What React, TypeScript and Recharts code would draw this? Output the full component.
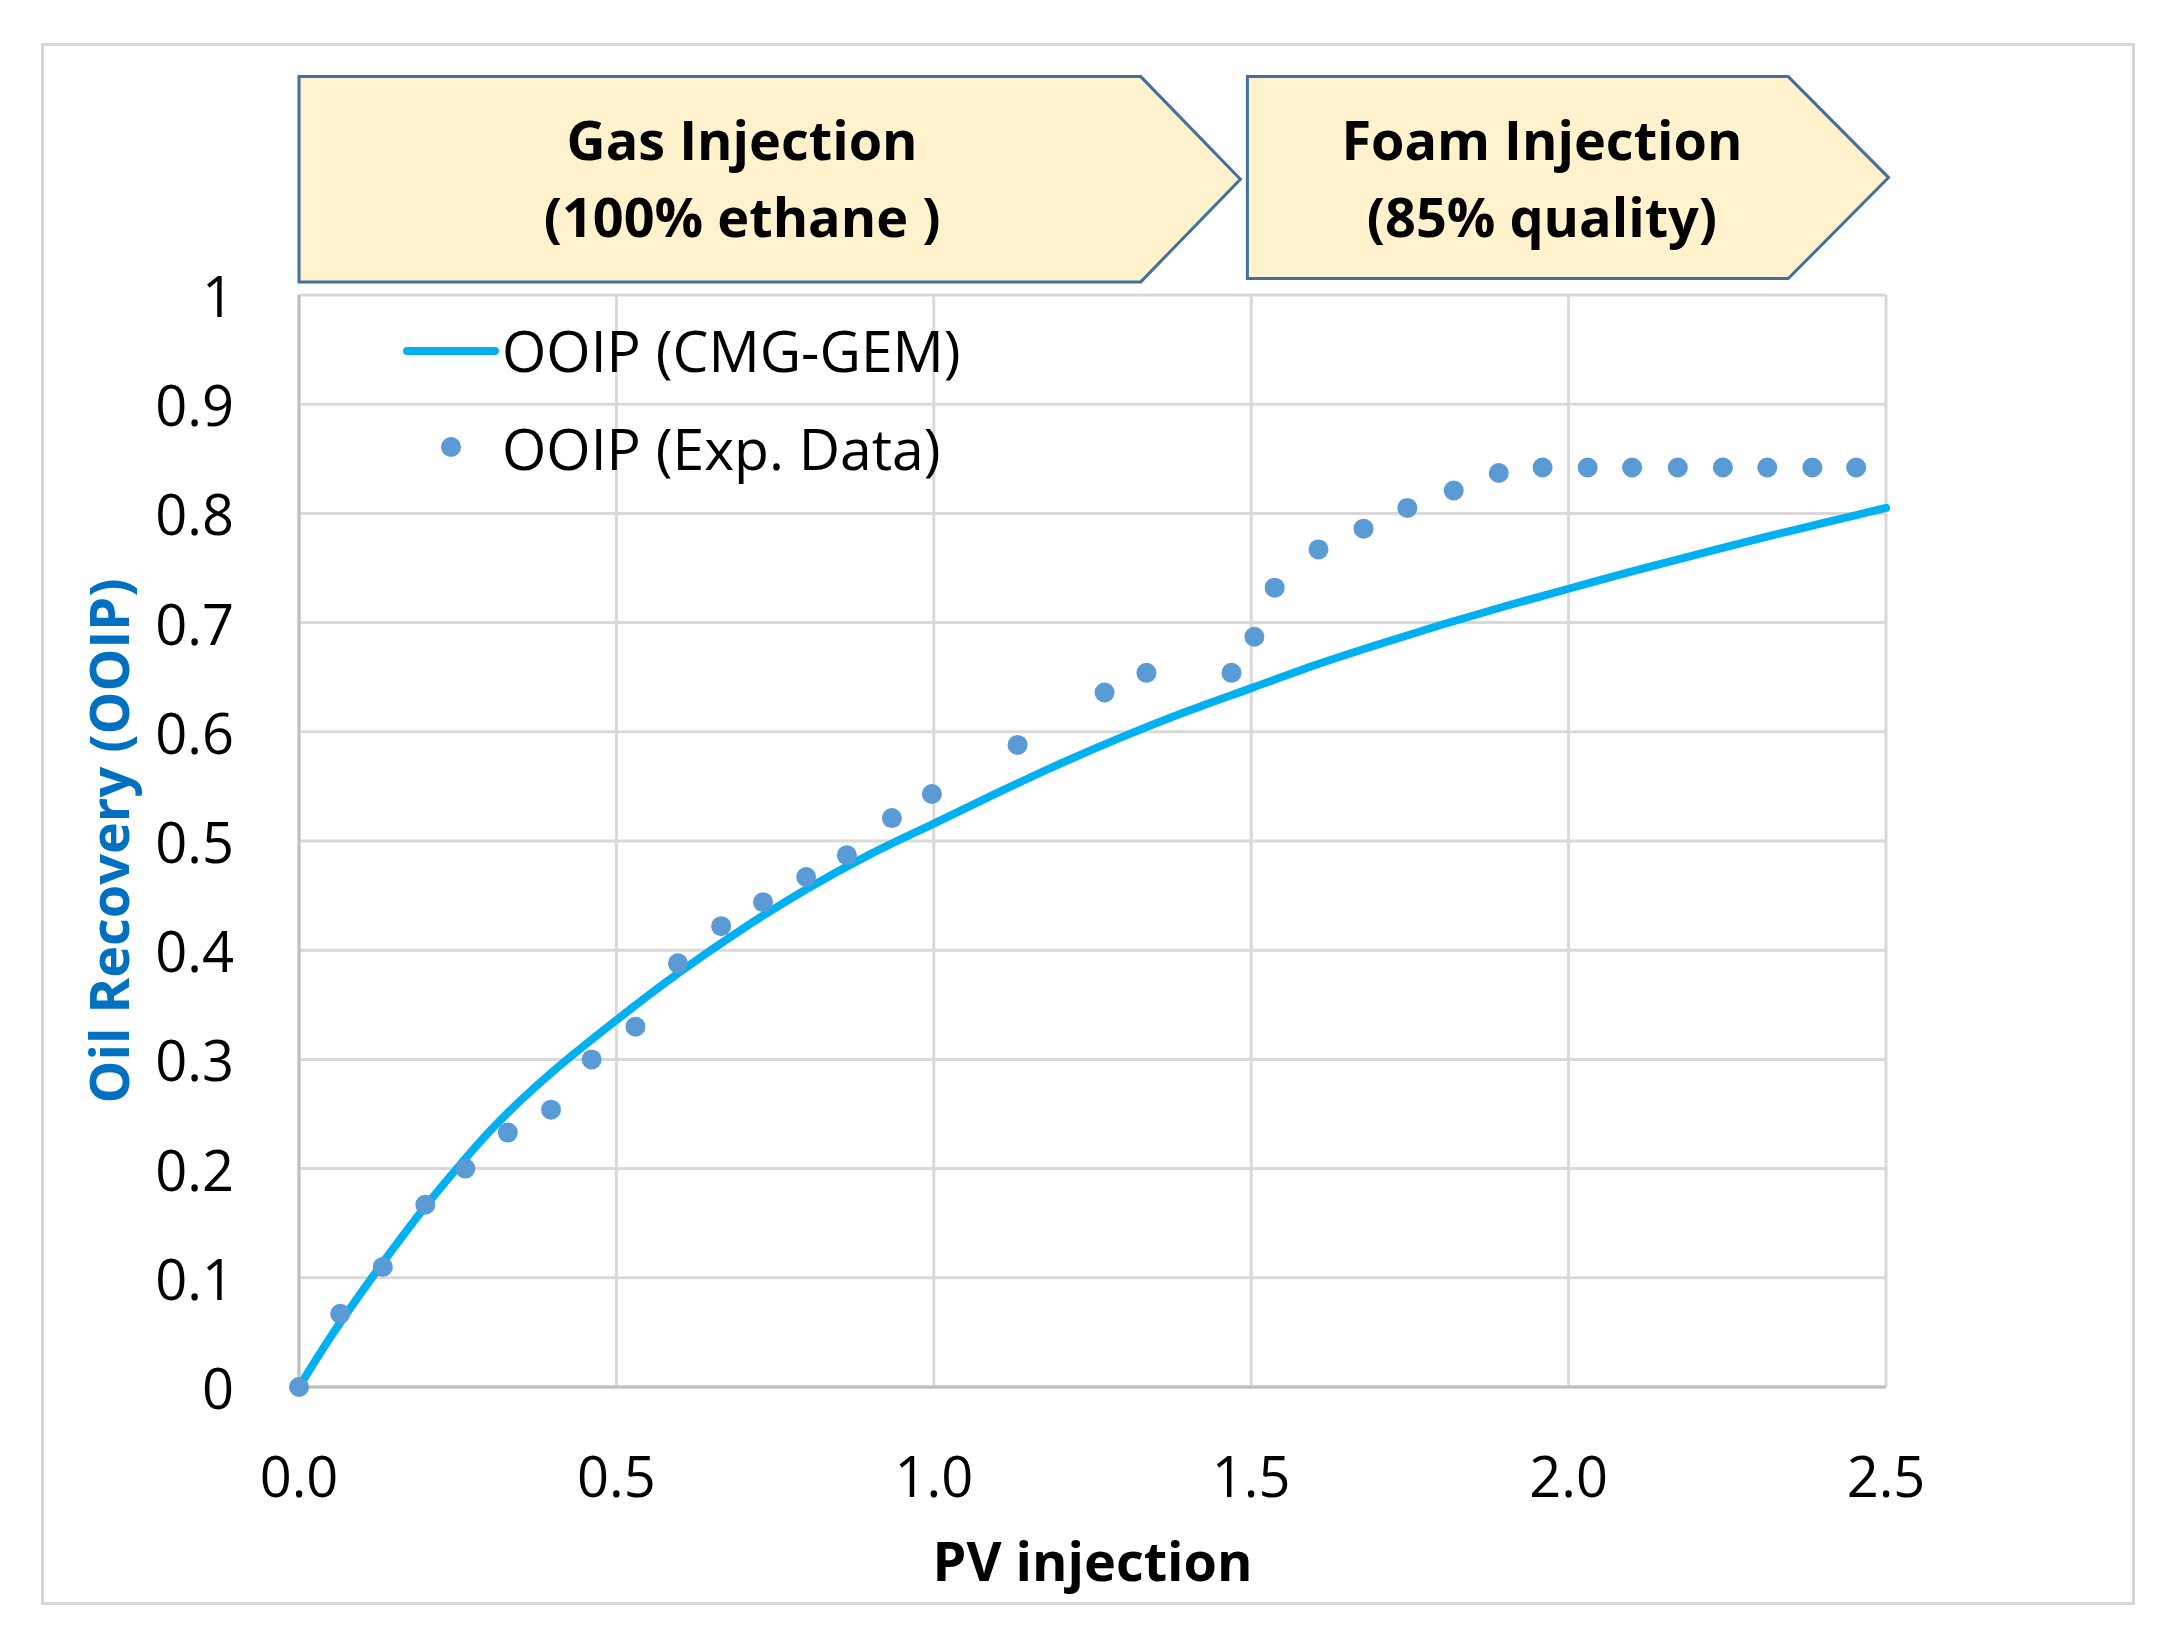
import React from 'react';
import {
  ComposedChart,
  Line,
  Scatter,
  XAxis,
  YAxis,
  CartesianGrid,
  ReferenceArea,
  Legend,
} from 'recharts';

// simulated recovery curve (CMG-GEM)
const simX = [
  0, 0.05, 0.1, 0.15, 0.2, 0.25, 0.3, 0.35, 0.4, 0.5, 0.6, 0.7, 0.8, 0.9, 1.0,
  1.1, 1.2, 1.3, 1.4, 1.5, 1.6, 1.7, 1.8, 1.9, 2.0, 2.1, 2.2, 2.3, 2.4, 2.5,
];
const simY = [
  0, 0.046, 0.088, 0.128, 0.166, 0.201, 0.234, 0.263, 0.289, 0.336, 0.38, 0.42, 0.456, 0.488, 0.516,
  0.544, 0.571, 0.596, 0.619, 0.64, 0.661, 0.68, 0.698, 0.715, 0.731, 0.747, 0.762, 0.777, 0.791, 0.805,
];

// experimental points
const expX = [
  0, 0.065, 0.132, 0.199, 0.262, 0.329, 0.397, 0.461, 0.53, 0.597, 0.665, 0.731, 0.799, 0.863, 0.934,
  0.997, 1.132, 1.269, 1.335, 1.469, 1.505, 1.537, 1.606, 1.677, 1.746, 1.819, 1.89, 1.959, 2.03, 2.1,
  2.172, 2.243, 2.313, 2.384, 2.453,
];
const expY = [
  0, 0.067, 0.11, 0.167, 0.2, 0.233, 0.254, 0.3, 0.33, 0.388, 0.422, 0.444, 0.467, 0.487, 0.521,
  0.543, 0.588, 0.636, 0.654, 0.654, 0.687, 0.732, 0.767, 0.786, 0.805, 0.821, 0.837, 0.842, 0.842, 0.842,
  0.842, 0.842, 0.842, 0.842, 0.842,
];

const xTicks = [0, 0.5, 1.0, 1.5, 2.0, 2.5];
const yTicks = [0, 0.1, 0.2, 0.3, 0.4, 0.5, 0.6, 0.7, 0.8, 0.9, 1];

// injection phase banners (x in PV, y in recovery units above the plot)
const phases = [
  { line1: 'Gas Injection', line2: '(100% ethane )', start: 0, end: 1.326, tip: 1.483, textX: 0.698, top: 1.2, bottom: 1.012 },
  { line1: 'Foam Injection', line2: '(85% quality)', start: 1.494, end: 2.346, tip: 2.504, textX: 1.958, top: 1.2, bottom: 1.015 },
];
const textRow1 = 1.143;
const textRow2 = 1.072;

const simData = simX.map((x, i) => ({ x, y: simY[i] }));
const expData = expX.map((x, i) => ({ x, y: expY[i] }));

const FONT = '"Open Sans", "Noto Sans", sans-serif';
const LINE_COLOR = '#00B0F0';
const DOT_COLOR = '#5B9BD5';

const makeBanner = (p: typeof phases[number]) => (props: any) => {
  const { x, y, width, height } = props;
  const span = p.tip - p.start;
  const px = (v: number) => x + (width * (v - p.start)) / span;
  const py = (v: number) => y + (height * (p.top - v)) / (p.top - p.bottom);
  const xr = px(p.end);
  const xt = x + width;
  const pts = `${x},${y} ${xr},${y} ${xt},${y + height / 2} ${xr},${y + height} ${x},${y + height}`;
  return (
    <g>
      <polygon points={pts} fill="#FFF2CC" stroke="#41719C" strokeWidth={3} />
      <text x={px(p.textX)} y={py(textRow1)} textAnchor="middle" dominantBaseline="central"
        fontFamily={FONT} fontWeight={700} fontSize={54} fill="#000">{p.line1}</text>
      <text x={px(p.textX)} y={py(textRow2)} textAnchor="middle" dominantBaseline="central"
        fontFamily={FONT} fontWeight={700} fontSize={54} fill="#000">{p.line2}</text>
    </g>
  );
};

const XTick = (props: any) => {
  const { x, y, payload } = props;
  return (
    <text x={x} y={y + 86} textAnchor="middle" dominantBaseline="central" fontFamily={FONT} fontSize={56} fill="#000">
      {Number(payload.value).toFixed(1)}
    </text>
  );
};

const YTick = (props: any) => {
  const { x, y, payload } = props;
  const v = Number(payload.value);
  const label = v === 0 || v === 1 ? String(v) : v.toFixed(1);
  return (
    <text x={x - 63} y={y} textAnchor="end" dominantBaseline="central" fontFamily={FONT} fontSize={56} fill="#000">
      {label}
    </text>
  );
};

const LegendBox = (props: any) => {
  const items = props.payload || [];
  return (
    <svg width={760} height={220}>
      {items.map((it: any, i: number) => {
        const cy = i === 0 ? 60 : 158;
        return (
          <g key={i}>
            {i === 0 ? (
              <line x1={27} x2={115} y1={cy + 1} y2={cy + 1} stroke={LINE_COLOR} strokeWidth={8} strokeLinecap="round" />
            ) : (
              <circle cx={71} cy={cy - 1} r={10} fill={DOT_COLOR} />
            )}
            <text x={122} y={cy} dominantBaseline="central" fontFamily={FONT} fontSize={57} fill="#000">
              {it.value}
            </text>
          </g>
        );
      })}
    </svg>
  );
};

export default function App() {
  return (
    <div style={{ position: 'absolute', left: 0, top: 0, width: 2175, height: 1641, background: '#fff' }}>
      <div style={{ position: 'absolute', left: 41, top: 43, width: 2088, height: 1556, border: '3px solid #d6d6d6' }} />
      <ComposedChart
        width={2175}
        height={1641}
        margin={{ top: 295, right: 289, bottom: 54, left: 99 }}
        style={{ position: 'absolute', left: 0, top: 0 }}
      >
        <CartesianGrid stroke="#d9d9d9" strokeWidth={3} />
        <XAxis
          type="number"
          dataKey="x"
          domain={[0, 2.5]}
          ticks={xTicks}
          height={200}
          tickSize={0}
          tickLine={false}
          axisLine={{ stroke: '#bfbfbf', strokeWidth: 3 }}
          tick={<XTick />}
          interval={0}
          label={{
            content: ({ viewBox }: any) => (
              <text x={viewBox.x + viewBox.width / 2} y={viewBox.y + 173} textAnchor="middle" dominantBaseline="central"
                fontFamily={FONT} fontWeight={700} fontSize={54} fill="#000">PV injection</text>
            ),
          }}
        />
        <YAxis
          type="number"
          dataKey="y"
          domain={[0, 1]}
          ticks={yTicks}
          width={200}
          tickSize={0}
          tickLine={false}
          axisLine={{ stroke: '#bfbfbf', strokeWidth: 3 }}
          tick={<YTick />}
          interval={0}
          label={{
            content: ({ viewBox }: any) => {
              const cx = viewBox.x + 9;
              const cy = viewBox.y + viewBox.height / 2;
              return (
                <text x={cx} y={cy} transform={`rotate(-90 ${cx} ${cy})`} textAnchor="middle" dominantBaseline="central"
                  fontFamily={FONT} fontWeight={700} fontSize={54} fill="#0070C0">Oil Recovery (OOIP)</text>
              );
            },
          }}
        />
        {phases.map((p, i) => (
          <ReferenceArea
            key={i}
            x1={p.start}
            x2={p.tip}
            y1={p.bottom}
            y2={p.top}
            ifOverflow="visible"
            shape={makeBanner(p)}
          />
        ))}
        <Legend
          layout="horizontal"
          verticalAlign="middle"
          align="center"
          wrapperStyle={{ left: 380, top: 290, width: 760, height: 220 }}
          content={<LegendBox />}
        />
        <Line
          data={simData}
          dataKey="y"
          name="OOIP (CMG-GEM)"
          type="monotone"
          stroke={LINE_COLOR}
          strokeWidth={8}
          strokeLinecap="round"
          dot={false}
          activeDot={false}
          isAnimationActive={false}
        />
        <Scatter
          data={expData}
          dataKey="y"
          name="OOIP (Exp. Data)"
          fill={DOT_COLOR}
          shape={(props: any) => <circle cx={props.cx} cy={props.cy} r={10} fill={DOT_COLOR} />}
          isAnimationActive={false}
        />
      </ComposedChart>
    </div>
  );
}
